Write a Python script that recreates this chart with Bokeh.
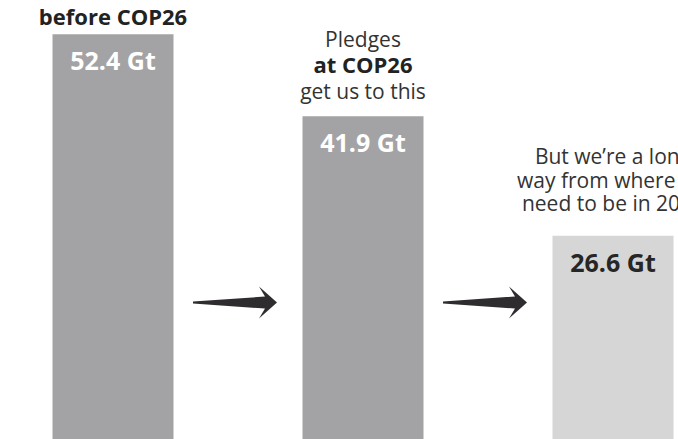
from bokeh.plotting import figure
from bokeh.models import ColumnDataSource, Range1d
from bokeh.core.properties import value
from bokeh.embed import file_html
from bokeh.resources import INLINE

# ---- data ----
categories = ["before COP26", "at COP26", "2030 target"]
emissions = [52.4, 41.9, 26.6]
value_labels = ["52.4 Gt", "41.9 Gt", "26.6 Gt"]
headline_before = ["before COP26"]
headline_pledges = ["Pledges", "at COP26", "get us to this"]
headline_target = ["But we\u2019re a long", "way from where we", "need to be in 2030"]

# ---- styles / layout ----
W, H = 678, 439
PXX = 250.0
PXY = 7.808
X0 = -112.5 / PXX
X1 = X0 + W / PXX
Y0 = 4 / PXY
Y1 = Y0 + H / PXY
FONT = value("Open Sans")
BASE_FIX = 0.45          # empirical baseline correction (em)
bar_colors = ["#a3a3a5", "#a3a3a5", "#d6d6d6"]
label_colors = ["#ffffff", "#ffffff", "#262626"]
BAR_W = 121 / PXX

p = figure(width=W, height=H, output_backend="svg", toolbar_location=None,
           x_range=Range1d(X0, X1), y_range=Range1d(Y0, Y1),
           x_axis_location=None, y_axis_location=None, min_border=0)
p.grid.visible = False
p.outline_line_color = None
p.background_fill_color = "white"
p.border_fill_color = "white"

xs = list(range(len(categories)))
LABEL_SIZE = 25
src = ColumnDataSource(dict(x=xs, top=emissions, color=bar_colors,
                            label=value_labels, lcolor=label_colors,
                            ly=[v - (37 - BASE_FIX * LABEL_SIZE) / PXY for v in emissions]))
p.vbar(x="x", top="top", bottom=0, width=BAR_W, fill_color="color",
       line_color=None, source=src)
p.text(x="x", y="ly", text="label", text_color="lcolor", text_font=FONT,
       text_font_size=f"{LABEL_SIZE}px", text_font_style="bold", text_align="center",
       text_baseline="alphabetic", source=src)

def put(i, off, txt, size, bold, color):
    # off: wanted baseline distance (px) above the bar top
    yv = emissions[i] + (off + BASE_FIX * size) / PXY
    p.text(x=[i], y=[yv], text=[txt], text_font=FONT, text_font_size=f"{size}px",
           text_font_style="bold" if bold else "normal", text_color=color,
           text_align="center", text_baseline="alphabetic")

# headline above bar 1 (top-anchored so it stays inside the canvas)
p.text(x=[0], y=[Y1], text=headline_before, text_font=FONT,
       text_font_size="22px", text_font_style="bold", text_color="#222222",
       text_align="center", text_baseline="top")
# headline above bar 2
for k, t in enumerate(headline_pledges):
    off = 16 + 26 * (len(headline_pledges) - 1 - k)
    put(1, off, t, 22 if k == 1 else 21, k == 1, "#222222" if k == 1 else "#333333")
# headline above bar 3
for k, t in enumerate(headline_target):
    off = 23 + 23.7 * (len(headline_target) - 1 - k)
    put(2, off, t, 21, False, "#333333")

# arrows between bars (shape in screen px relative to centre)
shape = [(-42, 1), (30, 6), (24, 16), (42, 0), (24, -16), (30, -6), (-42, -1)]
ARROW_Y = Y1 - 302 / PXY
axs, ays = [], []
for i in range(len(categories) - 1):
    cx = i + 0.5 - 3 / PXX
    axs.append([cx + dx / PXX for dx, dy in shape])
    ays.append([ARROW_Y + dy / PXY for dx, dy in shape])
p.patches(axs, ays, fill_color="#2e2c2f", line_color=None)

open("out.html", "w").write(file_html(p, INLINE))
